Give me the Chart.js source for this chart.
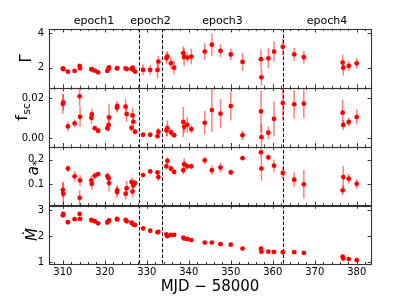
<!DOCTYPE html>
<html><head><meta charset="utf-8">
<script src="https://cdn.jsdelivr.net/npm/chart.js@4.4.0/dist/chart.umd.min.js"></script>
<style>html,body{margin:0;padding:0;background:#fff;}#wrap{width:399px;height:298px;position:relative;}</style>
</head><body><div id="wrap"><canvas id="c"></canvas></div>
<script>
// ---- data (MJD - 58000) ----
const mjd = [310.0,310.1,311.2,312.8,314.0,314.1,316.8,316.9,317.6,318.4,320.6,320.9,321.0,322.9,322.95,324.95,325.2,326.36,326.6,326.8,327.2,329.1,330.8,332.55,332.75,334.65,334.9,335.75,336.5,338.7,338.9,339.65,340.6,343.8,345.5,347.55,350.0,352.8,357.2,357.3,358.95,360.3,362.4,365.1,367.4,376.65,376.8,378.1,380.0];
const gamma = [1.96,1.91,1.77,1.81,2.10,1.96,1.91,1.90,1.83,1.73,1.81,1.93,2.02,1.96,1.97,1.96,1.91,1.93,2.00,1.87,1.77,1.87,1.87,1.87,2.35,2.55,2.64,2.26,2.00,2.83,2.62,2.58,2.64,2.93,3.32,2.97,2.76,2.33,2.49,1.44,2.54,2.93,3.20,2.77,2.60,2.29,2.00,2.10,2.25];
const gammaErr = [0.06,0.06,0.05,0.05,0.10,0.08,0.06,0.05,0.05,0.05,0.06,0.08,0.10,0.06,0.05,0.06,0.06,0.06,0.10,0.08,0.06,0.33,0.29,0.48,0.34,0.34,0.30,0.34,0.40,0.40,0.53,0.29,0.45,0.48,0.63,0.37,0.34,0.53,0.55,0.48,0.58,0.58,0.48,0.37,0.37,0.46,0.46,0.30,0.30];
const fsc = [0.0172,0.0180,0.0059,0.0074,0.0210,0.0107,0.0102,0.0119,0.0050,0.0037,0.0050,0.0066,0.0104,0.0153,0.0160,0.0158,0.0121,0.0052,0.0114,0.0082,0.0032,0.0017,0.0017,0.0010,0.0032,0.0039,0.0049,0.0029,0.0015,0.0081,0.0057,0.0067,0.0045,0.0077,0.0141,0.0123,0.0161,0.0015,0.0134,0.0005,0.0027,0.0097,0.0176,0.0170,0.0173,0.0128,0.0066,0.0081,0.0106];
const fscErr = [0.0050,0.0040,0.0025,0.0020,0.0050,0.0050,0.0030,0.0030,0.0010,0.0010,0.0015,0.0030,0.0070,0.0025,0.0025,0.0040,0.0040,0.0020,0.0040,0.0040,0.0010,0.0005,0.0005,0.0010,0.0020,0.0030,0.0040,0.0020,0.0010,0.0075,0.0030,0.0040,0.0020,0.0059,0.0110,0.0073,0.0073,0.0025,0.0105,0.0065,0.0032,0.0088,0.0080,0.0072,0.0073,0.0063,0.0025,0.0020,0.0038];
const astar = [0.076,0.060,0.164,0.132,0.043,0.115,0.115,0.101,0.134,0.141,0.133,0.124,0.104,0.067,0.074,0.060,0.083,0.108,0.069,0.094,0.104,0.137,0.152,0.148,0.129,0.173,0.196,0.164,0.150,0.157,0.182,0.173,0.173,0.198,0.157,0.168,0.148,0.207,0.231,0.164,0.210,0.176,0.146,0.118,0.099,0.074,0.129,0.122,0.101];
const astarErr = [0.033,0.045,0.014,0.021,0.031,0.023,0.020,0.025,0.015,0.010,0.015,0.020,0.035,0.025,0.020,0.025,0.030,0.020,0.025,0.030,0.012,0.008,0.008,0.010,0.016,0.014,0.016,0.012,0.010,0.018,0.025,0.015,0.012,0.015,0.020,0.020,0.012,0.008,0.020,0.050,0.012,0.025,0.025,0.030,0.059,0.020,0.045,0.020,0.020];
const mdot = [2.81,2.86,2.54,2.66,2.86,2.67,2.63,2.61,2.58,2.50,2.53,2.58,2.61,2.67,2.65,2.63,2.58,2.52,2.48,2.45,2.43,2.30,2.21,2.15,2.17,2.07,2.00,2.05,2.05,1.94,1.91,1.89,1.85,1.75,1.75,1.69,1.67,1.52,1.52,1.40,1.40,1.39,1.38,1.38,1.35,1.21,1.13,1.11,1.07];

const epochBounds = [328.1, 333.7, 362.4];
const epochLabels = ['epoch1','epoch2','epoch3','epoch4'];
const xTicks = [310,320,330,340,350,360,370,380];
const xTickLabels = ['310','320','330','340','350','360','370','380'];
const gammaTicks = [2,4];       const gammaTickLabels = ['2','4'];
const fscTicks = [0,0.02];      const fscTickLabels = ['0.00','0.02'];
const astarTicks = [0.1,0.2];   const astarTickLabels = ['0.1','0.2'];
const mdotTicks = [1,2,3];      const mdotTickLabels = ['1','2','3'];
const xRange = [306.7, 383.4];

const FONT = 'DejaVu Sans';
Chart.defaults.font.family = FONT;
Chart.defaults.color = '#000';

const pts = (ys) => mjd.map((x,i)=>({x:x,y:ys[i]}));
function mkDs(ys, err, axis){
  return {data: pts(ys), err: err, yAxisID: axis, backgroundColor:'#ff0000', borderWidth:0, pointRadius:2.4, pointHoverRadius:2.4};
}
function yScale(min,max,ticks,labels){
  return {type:'linear', position:'left', stack:'panels', stackWeight:1, offset:false, min:min, max:max,
    grid:{display:false, drawTicks:false}, border:{display:false},
    afterBuildTicks: s => { s.ticks = ticks.map(v=>({value:v})); },
    afterFit: s => { s.width = 49; },
    ticks:{autoSkip:false, padding:5, font:{size:10}, color:'#000', callback:(v,i)=>labels[i]}};
}

const errPlugin = {
  id:'errbars',
  beforeDatasetsDraw(chart){
    const ctx = chart.ctx, xs = chart.scales.x, a = chart.chartArea;
    ctx.save();
    ctx.strokeStyle = '#000'; ctx.lineWidth = 1; ctx.setLineDash([3.5,2]);
    epochBounds.forEach(b=>{ const x = Math.round(xs.getPixelForValue(b))+0.5; ctx.beginPath(); ctx.moveTo(x,a.top); ctx.lineTo(x,a.bottom); ctx.stroke(); });
    ctx.restore();
    chart.data.datasets.forEach(ds=>{
      if(!ds.err) return;
      const ys = chart.scales[ds.yAxisID];
      ctx.save();
      ctx.beginPath(); ctx.rect(a.left, ys.top, a.right-a.left, ys.bottom-ys.top); ctx.clip();
      ctx.strokeStyle = 'rgba(255,0,0,0.5)'; ctx.lineWidth = 1.5;
      ds.data.forEach((p,j)=>{
        const e = ds.err[j]; const x = xs.getPixelForValue(p.x);
        ctx.beginPath(); ctx.moveTo(x, ys.getPixelForValue(p.y-e)); ctx.lineTo(x, ys.getPixelForValue(p.y+e)); ctx.stroke();
      });
      ctx.restore();
    });
  }
};

const framePlugin = {
  id:'frames',
  afterDatasetsDraw(chart){
    const ctx = chart.ctx, xs = chart.scales.x, a = chart.chartArea;
    ctx.save();
    ctx.strokeStyle = '#222'; ctx.lineWidth = 0.9;
    ['yG','yF','yA','yM'].forEach(id=>{
      const ys = chart.scales[id];
      const t = ys.top, b = ys.bottom;
      for(let v=308; v<=382; v+=2){
        const major = v%10===0;
        const L = major?3.5:2;
        const x = Math.round(xs.getPixelForValue(v))+0.5;
        ctx.beginPath(); ctx.moveTo(x,b); ctx.lineTo(x,b-L); ctx.moveTo(x,t); ctx.lineTo(x,t+L); ctx.stroke();
      }
      ys.ticks.forEach(tk=>{
        const y = Math.round(ys.getPixelForValue(tk.value))+0.5;
        ctx.beginPath(); ctx.moveTo(a.left,y); ctx.lineTo(a.left+3.5,y); ctx.moveTo(a.right,y); ctx.lineTo(a.right-3.5,y); ctx.stroke();
      });
    });
    ctx.lineWidth = 1.1; ctx.strokeStyle = '#333';
    ['yG','yF','yA','yM'].forEach(id=>{
      const ys = chart.scales[id];
      ctx.strokeRect(Math.round(a.left)+0.5, Math.round(ys.top)+0.5, Math.round(a.right-a.left), Math.round(ys.bottom-ys.top));
    });
    ctx.restore();
  },
  afterDraw(chart){
    const ctx = chart.ctx, xs = chart.scales.x, a = chart.chartArea;
    ctx.save();
    ctx.fillStyle = '#000';
    ctx.font = '11px "'+FONT+'"'; ctx.textAlign = 'center'; ctx.textBaseline = 'alphabetic';
    const edges = [xRange[0]].concat(epochBounds, [xRange[1]]);
    epochLabels.forEach((lab,i)=>{
      const x = xs.getPixelForValue((edges[i]+edges[i+1])/2);
      ctx.fillText(lab, x, a.top-5.5);
    });
    function rot(cx, cy, fn){ ctx.save(); ctx.translate(cx,cy); ctx.rotate(-Math.PI/2); fn(); ctx.restore(); }
    const mid = id => (chart.scales[id].top+chart.scales[id].bottom)/2;
    rot(30.5, mid('yG'), ()=>{ ctx.font = '15px "'+FONT+'"'; ctx.textAlign='center'; ctx.fillText('Γ',0,0); });
    rot(27, mid('yF')-5, ()=>{
      ctx.textAlign='left';
      ctx.font = '16px "'+FONT+'"'; const w1 = ctx.measureText('f').width;
      ctx.font = '11px "'+FONT+'"'; const w2 = ctx.measureText('sc').width;
      const s = -(w1+w2)/2;
      ctx.font = '16px "'+FONT+'"'; ctx.fillText('f', s, 0);
      ctx.font = '11px "'+FONT+'"'; ctx.fillText('sc', s+w1+0.5, 3);
    });
    rot(38, mid('yA')-8, ()=>{
      ctx.textAlign='left';
      ctx.font = 'italic 15px "'+FONT+'"'; const w1 = ctx.measureText('a').width;
      ctx.font = '11px "'+FONT+'"'; const w2 = ctx.measureText('*').width;
      const s = -(w1+w2)/2;
      ctx.font = 'italic 15px "'+FONT+'"'; ctx.fillText('a', s, 0);
      ctx.font = '11px "'+FONT+'"'; ctx.fillText('*', s+w1, 2);
    });
    rot(37, mid('yM'), ()=>{ ctx.font = 'italic 15px "'+FONT+'"'; ctx.textAlign='center'; ctx.fillText('Ṁ',0,0); });
    ctx.restore();
  }
};

new Chart(document.getElementById('c'), {
  type:'scatter',
  data:{datasets:[
    mkDs(mdot, null, 'yM'),
    mkDs(astar, astarErr, 'yA'),
    mkDs(fsc, fscErr, 'yF'),
    mkDs(gamma, gammaErr, 'yG')
  ]},
  options:{
    responsive:true, maintainAspectRatio:false, animation:false, devicePixelRatio:1,
    layout:{padding:{top:29, right:28, left:0, bottom:0}},
    plugins:{legend:{display:false}, tooltip:{enabled:false}},
    scales:{
      x:{type:'linear', position:'bottom', min:xRange[0], max:xRange[1],
        grid:{display:false, drawTicks:false}, border:{display:false},
        afterBuildTicks: s => { s.ticks = xTicks.map(v=>({value:v})); },
        afterFit: s => { s.height = 34; },
        ticks:{autoSkip:false, maxRotation:0, padding:2, font:{size:10}, color:'#000', callback:(v,i)=>xTickLabels[i]},
        title:{display:true, text:'MJD − 58000', font:{size:15}, color:'#000', padding:{top:0,bottom:2}}},
      yM: yScale(0.92, 3.2, mdotTicks, mdotTickLabels),
      yA: yScale(0.0125, 0.255, astarTicks, astarTickLabels),
      yF: yScale(-0.0042, 0.0253, fscTicks, fscTickLabels),
      yG: yScale(0.84, 4.23, gammaTicks, gammaTickLabels)
    }
  },
  plugins:[errPlugin, framePlugin]
});
</script></body></html>
